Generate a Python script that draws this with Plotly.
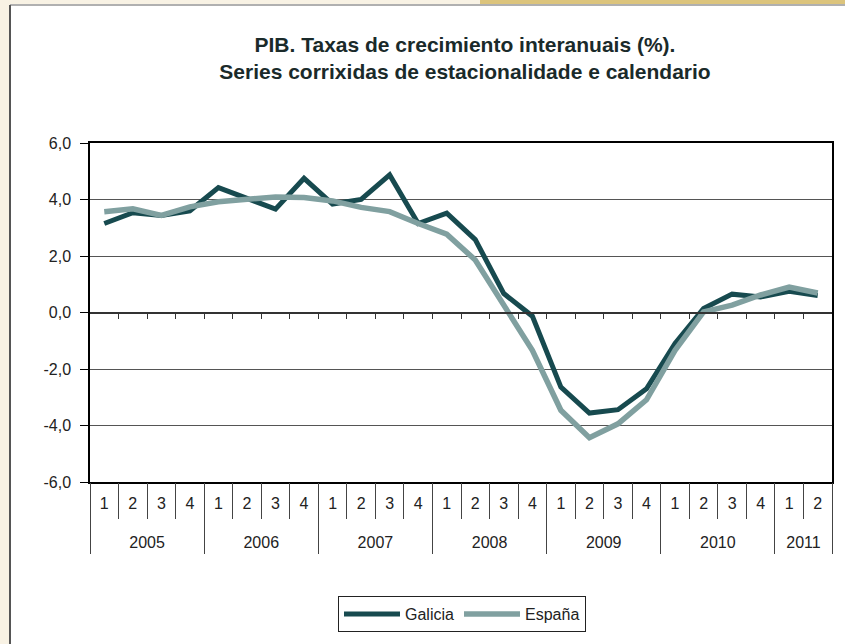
import plotly.graph_objects as go

years = ["2005"] * 4 + ["2006"] * 4 + ["2007"] * 4 + ["2008"] * 4 + ["2009"] * 4 + ["2010"] * 4 + ["2011"] * 2
quarters = ["1", "2", "3", "4"] * 6 + ["1", "2"]

galicia = [3.15, 3.53, 3.43, 3.60, 4.42, 4.06, 3.66, 4.75, 3.84, 4.00, 4.87, 3.15,
           3.52, 2.58, 0.67, -0.13, -2.64, -3.56, -3.44, -2.70, -1.10, 0.14, 0.65, 0.55,
           0.75, 0.60]
espana = [3.57, 3.67, 3.44, 3.74, 3.92, 4.01, 4.09, 4.07, 3.95, 3.72, 3.57, 3.15,
          2.77, 1.86, 0.30, -1.34, -3.46, -4.43, -3.94, -3.09, -1.34, 0.02, 0.26, 0.62,
          0.90, 0.69]

y_tick_values = [-6, -4, -2, 0, 2, 4, 6]
y_tick_labels = ["-6,0", "-4,0", "-2,0", "0,0", "2,0", "4,0", "6,0"]

n = len(quarters)
xpos = list(range(n))
inner_bounds = [i - 0.5 for i in range(1, n)]

# year groups derived from the year list
year_labels, year_centers, year_bounds = [], [], [-0.5]
start = 0
for i in range(1, n + 1):
    if i == n or years[i] != years[start]:
        year_labels.append(years[start])
        year_centers.append((start + i - 1) / 2)
        year_bounds.append(i - 0.5)
        start = i

FONT = "Liberation Sans, Arial, sans-serif"
DARK = "#174a4f"
LIGHT = "#80a0a0"
TXT = "#222222"
XR = [-0.5, n - 0.5]

fig = go.Figure()
fig.add_trace(go.Scatter(x=xpos, y=galicia, mode="lines", name="Galicia",
                         line=dict(color=DARK, width=5)))
fig.add_trace(go.Scatter(x=xpos, y=espana, mode="lines", name="España",
                         line=dict(color=LIGHT, width=5.5)))
for ax in ["x2", "x3", "x4", "x5"]:
    fig.add_trace(go.Scatter(x=xpos, y=[None] * n, xaxis=ax, showlegend=False,
                             hoverinfo="skip", mode="lines"))

# page decoration (cream margin, white sheet, gold band)
L, T, W, H = 90, 143, 742, 339
def px(x):
    return (x - L) / W
def py(y):
    return (T + H - y) / H

fig.add_shape(type="rect", xref="paper", yref="paper", layer="below",
              x0=px(10), x1=px(846), y0=py(645), y1=py(5),
              fillcolor="white", line=dict(width=0))
fig.add_shape(type="rect", xref="paper", yref="paper", layer="below",
              x0=px(480), x1=px(846), y0=py(4), y1=py(-1),
              fillcolor="#dcc47c", line=dict(width=0))
fig.add_shape(type="line", xref="paper", yref="paper", layer="below",
              x0=px(10), x1=px(846), y0=py(5), y1=py(5),
              line=dict(color="#b0b0b0", width=2))
fig.add_shape(type="line", xref="paper", yref="paper", layer="below",
              x0=px(10), x1=px(10), y0=py(645), y1=py(5),
              line=dict(color="#555555", width=2))

overlay = dict(type="linear", overlaying="x", anchor="free", range=XR,
               showgrid=False, zeroline=False, automargin=False)

fig.update_layout(
    width=845, height=644,
    margin=dict(l=L, r=845 - L - W, t=T, b=644 - T - H, autoexpand=False),
    paper_bgcolor="#f8f2e4",
    plot_bgcolor="white",
    separators=",.",
    font=dict(family=FONT, size=16, color=TXT),
    title=dict(
        text="<b>PIB. Taxas de crecimiento interanuais (%).<br>Series corrixidas de estacionalidade e calendario</b>",
        x=465 / 845, xanchor="center", y=1 - 52 / 644, yanchor="middle",
        font=dict(family=FONT, size=21, color="#1a2a2a"),
    ),
    xaxis=dict(
        type="linear", range=XR, tickvals=xpos, ticktext=quarters,
        ticks="outside", ticklen=6, tickcolor="rgba(0,0,0,0)",
        showgrid=False, zeroline=False, automargin=False,
        showline=True, mirror=True, linecolor="black", linewidth=1.5,
        tickfont=dict(family=FONT, size=16, color=TXT),
    ),
    xaxis2=dict(overlay, position=0.5, tickvals=inner_bounds, showticklabels=False,
                ticks="outside", ticklen=6, tickcolor="#333333", tickwidth=1,
                showline=True, linecolor="#333333", linewidth=1.5),
    xaxis3=dict(overlay, position=0, tickvals=inner_bounds, showticklabels=False,
                ticks="outside", ticklen=36, tickcolor="#444444", tickwidth=1,
                showline=False),
    xaxis4=dict(overlay, position=0, tickvals=year_centers, ticktext=year_labels,
                ticks="outside", ticklen=46, tickcolor="rgba(0,0,0,0)",
                showline=False, tickfont=dict(family=FONT, size=16, color=TXT)),
    xaxis5=dict(overlay, position=0, tickvals=year_bounds, showticklabels=False,
                ticks="outside", ticklen=71, tickcolor="#444444", tickwidth=1,
                showline=False),
    yaxis=dict(
        range=[-6, 6], tickvals=y_tick_values, ticktext=y_tick_labels, automargin=False,
        showgrid=True, gridcolor="#555555", gridwidth=1,
        zeroline=False,
        showline=True, mirror=True, linecolor="black", linewidth=1.5,
        ticks="outside", ticklen=8, tickcolor="black", ticklabelstandoff=6,
        tickfont=dict(family=FONT, size=16, color=TXT),
    ),
    legend=dict(
        orientation="h", x=px(462), xanchor="center", y=py(614), yanchor="middle",
        bordercolor="#222222", borderwidth=1, bgcolor="white",
        itemwidth=56,
        font=dict(family=FONT, size=16, color=TXT),
    ),
)

fig.write_html("out.html", config={"displayModeBar": False},
               post_script="document.body.style.margin='0px';")
